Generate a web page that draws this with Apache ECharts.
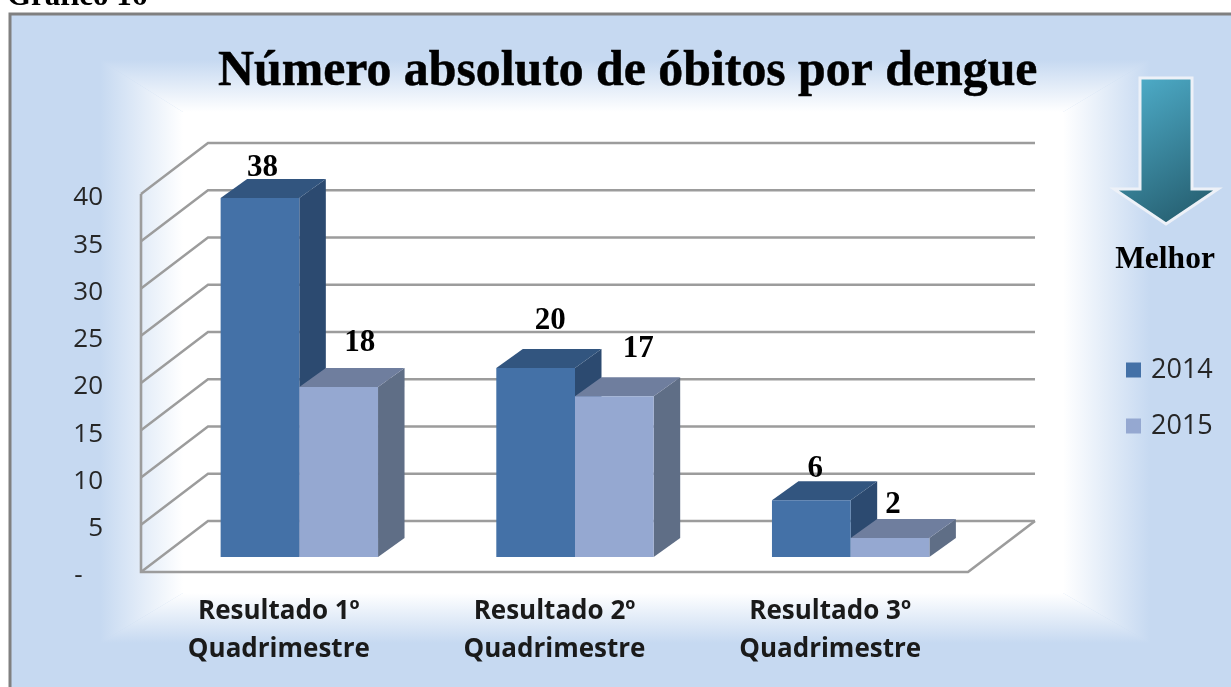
<!DOCTYPE html>
<html><head><meta charset="utf-8">
<style>html,body{margin:0;padding:0;background:#fff;overflow:hidden}#c{width:1231px;height:687px}</style>
<script src="https://cdn.jsdelivr.net/npm/echarts@6/dist/echarts.min.js"></script>
</head><body><div id="c"></div>
<script>
// ---- data ----
const categories = ['Resultado 1º\nQuadrimestre', 'Resultado 2º\nQuadrimestre', 'Resultado 3º\nQuadrimestre'];
const values2014 = [38, 20, 6];
const values2015 = [18, 17, 2];
const yTicks = [0, 5, 10, 15, 20, 25, 30, 35, 40];

// ---- layout / styling constants ----
const wallDepth = [67, 51];          // front wall -> back wall
const barPlane = [20.5, 15];         // front wall -> bar front face
const barDepth = [26.5, 19];         // bar front face -> bar back
const barBandShare = 78.7 / 275.67;
const labelNudge2014 = [[2.5, -10.5], [14.5, -28.5], [4, -12.5]];
const labelNudge2015 = [[21, -24.5], [24, -28.5], [3, -14]];
const sky = '#C6D9F1';
const style2014 = { front: '#4471A7', top: '#32557F', side: '#2C4A70' };
const style2015 = { front: '#95A8D1', top: '#6F7E9E', side: '#5F6E86' };
const gridGrey = '#9C9C9C';

const chart = echarts.init(document.getElementById('c'));
const G = echarts.graphic;

function wallRender(params, api) {
  const cs = params.coordSys;
  const y = api.coord([0, api.value(1)])[1];
  const xL = cs.x, xB = cs.x + wallDepth[0], xR = xB + cs.width;
  const yB = y - wallDepth[1];
  const children = [{
    type: 'polyline', shape: { points: [[xL, y], [xB, yB], [xR, yB]] },
    style: { stroke: gridGrey, lineWidth: 2.4, fill: 'none' }
  }];
  if (api.value(1) === 0) {
    children.push({
      type: 'polyline',
      shape: { points: [[xL, cs.y], [xL, y], [xL + cs.width, y], [xR, yB]] },
      style: { stroke: gridGrey, lineWidth: 2.6, fill: 'none' }
    });
  }
  return { type: 'group', children };
}

function barRender(slot, st, nudges) {
  return function (params, api) {
    const idx = api.value(0), val = api.value(1);
    const centre = api.coord([idx, 0]);
    const topP = api.coord([idx, val]);
    const w = api.size([1, 0])[0] * barBandShare;
    const x0 = centre[0] + barPlane[0] + (slot - 1) * w;
    const x1 = x0 + w;
    const yb = centre[1] - barPlane[1];
    const yt = topP[1] - barPlane[1];
    const dx = barDepth[0], dy = barDepth[1];
    const n = nudges[idx];
    return {
      type: 'group',
      children: [
        { type: 'polygon', shape: { points: [[x1, yb], [x1 + dx, yb - dy], [x1 + dx, yt - dy], [x1, yt]] }, style: { fill: st.side } },
        { type: 'polygon', shape: { points: [[x0, yt], [x0 + dx, yt - dy], [x1 + dx, yt - dy], [x1, yt]] }, style: { fill: st.top } },
        { type: 'rect', shape: { x: x0, y: yt, width: w, height: yb - yt }, style: { fill: st.front } },
        { type: 'text', x: (x0 + x1) / 2 + n[0], y: yt - dy + n[1],
          style: { text: String(val), font: 'bold 31px "Liberation Serif"', fill: '#000', align: 'center', verticalAlign: 'middle' } }
      ]
    };
  };
}

function trapezoid(points, x, y, x2, y2) {
  return {
    type: 'polygon', silent: true, shape: { points },
    style: { fill: new G.LinearGradient(x, y, x2, y2, [{ offset: 0, color: sky }, { offset: 1, color: '#FFFFFF' }], true) }
  };
}
const o = { l: 100, t: 60, r: 1150, b: 643 };
const i = { l: 183, t: 112, r: 1063, b: 593 };

chart.setOption({
  animation: false,
  backgroundColor: '#fff',
  title: {
    text: 'Número absoluto de óbitos por dengue',
    left: 213, top: 42,
    textStyle: { fontFamily: 'Liberation Serif', fontWeight: 'bold', fontSize: 49.8, color: '#000', textBorderColor: '#000', textBorderWidth: 0.5 }
  },
  legend: {
    data: ['2014', '2015'], orient: 'vertical', left: 1126, top: 356, padding: 0,
    icon: 'rect', itemWidth: 15, itemHeight: 15, itemGap: 28,
    textStyle: { fontFamily: 'Open Sans', fontSize: 27, lineHeight: 28, color: '#262626', padding: [0, 0, 0, 5] },
    selectedMode: false
  },
  grid: { left: 141, top: 194, width: 827, height: 378, containLabel: false },
  xAxis: {
    type: 'category', data: categories,
    axisLine: { show: false }, axisTick: { show: false },
    axisLabel: { margin: 21, fontFamily: 'Open Sans', fontWeight: 'bold', fontSize: 26, lineHeight: 38, color: '#1a1a1a', interval: 0 }
  },
  yAxis: {
    type: 'value', min: 0, max: 40, interval: 5,
    axisLine: { show: false }, axisTick: { show: false }, splitLine: { show: false },
    axisLabel: { margin: 38,
      formatter: v => '{t|' + (v === 0 ? '-   ' : String(v)) + '}',
      rich: { t: { fontFamily: 'Open Sans', fontSize: 26, color: '#262626', padding: [8, 0, 0, 0] } } }
  },
  graphic: { elements: [
    { type: 'rect', silent: true, shape: { x: 10, y: 14, width: 1240, height: 700 }, style: { fill: sky, stroke: '#808080', lineWidth: 3 } },
    { type: 'rect', silent: true, shape: { x: i.l, y: i.t, width: i.r - i.l, height: i.b - i.t }, style: { fill: '#fff' } },
    trapezoid([[o.l, o.t], [o.r, o.t], [i.r, i.t], [i.l, i.t]], 0, o.t, 0, i.t),
    trapezoid([[o.l, o.b], [o.r, o.b], [i.r, i.b], [i.l, i.b]], 0, o.b, 0, i.b),
    trapezoid([[o.l, o.t], [i.l, i.t], [i.l, i.b], [o.l, o.b]], o.l, 0, i.l, 0),
    trapezoid([[o.r, o.t], [i.r, i.t], [i.r, i.b], [o.r, o.b]], o.r, 0, i.r, 0),
    { type: 'text', silent: true, x: 7, y: 12, style: { text: 'Gráfico 16', font: 'bold 31px "Liberation Serif"', fill: '#000', verticalAlign: 'bottom' } },
    { type: 'polygon', silent: true,
      shape: { points: [[1140, 78], [1192, 78], [1192, 189], [1218, 189], [1166, 224], [1114, 189], [1140, 189]] },
      style: { fill: new G.LinearGradient(1135, 85, 1215, 215, [{ offset: 0, color: '#4CA9C5' }, { offset: 1, color: '#245B6C' }], true), stroke: '#EDF1F8', lineWidth: 3 } },
    { type: 'text', silent: true, x: 1165, y: 260, style: { text: 'Melhor', font: 'bold 31.5px "Liberation Serif"', fill: '#000', align: 'center', verticalAlign: 'middle' } }
  ] },
  series: [
    { type: 'custom', name: 'walls', renderItem: wallRender, silent: true, z: 1,
      data: yTicks.map(v => [0, v]), encode: { x: 0, y: 1 } },
    { type: 'custom', name: '2014', renderItem: barRender(0, style2014, labelNudge2014), z: 3,
      itemStyle: { color: style2014.front },
      data: values2014.map((v, k) => [k, v]), encode: { x: 0, y: 1 } },
    { type: 'custom', name: '2015', renderItem: barRender(1, style2015, labelNudge2015), z: 4,
      itemStyle: { color: style2015.front },
      data: values2015.map((v, k) => [k, v]), encode: { x: 0, y: 1 } }
  ]
});
</script></body></html>
